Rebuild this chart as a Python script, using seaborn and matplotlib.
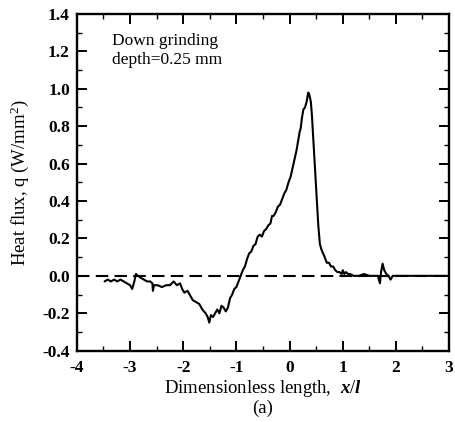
import matplotlib
matplotlib.use("Agg")
import matplotlib.pyplot as plt
import seaborn as sns
import pandas as pd
from matplotlib.ticker import MultipleLocator

# Measured heat flux along the contact zone (down grinding, depth 0.25 mm)
x_over_l = [-3.48, -3.42, -3.36, -3.30, -3.24, -3.18, -3.12, -3.06, -3.00, -2.96,
            -2.92, -2.89, -2.85, -2.80, -2.74, -2.68, -2.62, -2.58, -2.57, -2.55,
            -2.48, -2.40, -2.32, -2.25, -2.18, -2.12, -2.06, -2.02, -1.98, -1.92,
            -1.88, -1.82, -1.76, -1.70, -1.64, -1.58, -1.54, -1.51, -1.48, -1.44,
            -1.40, -1.36, -1.32, -1.28, -1.24, -1.20, -1.16, -1.12, -1.08, -1.04,
            -1.00, -0.96, -0.92, -0.88, -0.84, -0.80, -0.76, -0.72, -0.68, -0.64,
            -0.60, -0.56, -0.52, -0.48, -0.44, -0.40, -0.36, -0.33, -0.30, -0.26,
            -0.22, -0.18, -0.14, -0.10, -0.06, -0.02, 0.02, 0.06, 0.10, 0.13,
            0.16, 0.19, 0.21, 0.23, 0.26, 0.29, 0.32, 0.35, 0.37, 0.40,
            0.42, 0.45, 0.48, 0.51, 0.54, 0.57, 0.60, 0.63, 0.66, 0.70,
            0.74, 0.78, 0.82, 0.86, 0.90, 0.94, 0.98, 1.00, 1.03, 1.06,
            1.10, 1.14, 1.20, 1.30, 1.40, 1.50, 1.60, 1.66, 1.70, 1.72,
            1.75, 1.78, 1.82, 1.86, 1.90, 1.94, 2.00, 2.20, 2.50, 2.80, 3.00]
heat_flux = [-0.03, -0.02, -0.03, -0.02, -0.03, -0.02, -0.03, -0.04, -0.05, -0.07,
             -0.03, 0.01, 0.00, -0.01, -0.02, -0.03, -0.03, -0.04, -0.08, -0.05,
             -0.05, -0.06, -0.05, -0.05, -0.03, -0.05, -0.04, -0.07, -0.09, -0.08,
             -0.10, -0.13, -0.14, -0.15, -0.18, -0.20, -0.22, -0.25, -0.21, -0.22,
             -0.20, -0.18, -0.20, -0.16, -0.17, -0.19, -0.17, -0.12, -0.10, -0.07,
             -0.06, -0.03, 0.00, 0.03, 0.05, 0.09, 0.12, 0.13, 0.16, 0.17,
             0.21, 0.22, 0.21, 0.24, 0.25, 0.27, 0.28, 0.32, 0.32, 0.34,
             0.37, 0.38, 0.41, 0.44, 0.46, 0.50, 0.53, 0.58, 0.63, 0.67,
             0.72, 0.77, 0.79, 0.84, 0.89, 0.90, 0.93, 0.98, 0.97, 0.93,
             0.86, 0.71, 0.56, 0.40, 0.27, 0.17, 0.14, 0.12, 0.10, 0.07,
             0.07, 0.05, 0.05, 0.03, 0.02, 0.02, 0.01, 0.03, 0.01, 0.02,
             0.01, 0.01, 0.00, 0.00, 0.01, 0.00, 0.00, 0.00, -0.04, 0.02,
             0.065, 0.03, 0.01, 0.00, -0.02, 0.00, 0.00, 0.00, 0.00, 0.00, 0.00]

x_ticks = [-4, -3, -2, -1, 0, 1, 2, 3]
y_ticks = [-0.4, -0.2, 0.0, 0.2, 0.4, 0.6, 0.8, 1.0, 1.2, 1.4]

df = pd.DataFrame({"x": x_over_l, "q": heat_flux})

sns.set_theme(style="ticks")
plt.rcParams["font.family"] = ["Liberation Serif", "DejaVu Serif"]
plt.rcParams["mathtext.fontset"] = "custom"
plt.rcParams["mathtext.rm"] = "Liberation Serif"
plt.rcParams["mathtext.it"] = "Liberation Serif:italic:bold"

fig = plt.figure(figsize=(4.55, 4.22), dpi=100)
ax = fig.add_axes([0.169, 0.169, 0.818, 0.798])

ax.axhline(0, color="black", lw=1.5, ls=(0, (6, 3)), zorder=1)
sns.lineplot(data=df, x="x", y="q", ax=ax, color="black", lw=1.5,
             sort=False, estimator=None, zorder=2)

ax.set_xlim(-4, 3)
ax.set_ylim(-0.4, 1.4)
ax.set_xticks(x_ticks)
ax.set_xticklabels([f"{t:d}" for t in x_ticks])
ax.set_yticks(y_ticks)
ax.set_yticklabels([f"{t:.1f}" for t in y_ticks])
ax.xaxis.set_minor_locator(MultipleLocator(0.5))
ax.yaxis.set_minor_locator(MultipleLocator(0.1))
ax.tick_params(which="both", direction="in", top=True, right=True, color="black",
               labelsize=12.5, labelcolor="black")
ax.tick_params(which="major", length=7, width=1.4)
ax.tick_params(axis="x", which="major", pad=7)
ax.tick_params(axis="y", which="major", pad=5)
ax.tick_params(which="minor", length=3.5, width=1.0)
for lab in ax.get_xticklabels() + ax.get_yticklabels():
    lab.set_fontweight("bold")
for s in ax.spines.values():
    s.set_linewidth(1.7)
    s.set_color("black")

ax.set_xlabel("Dimensionless length,  $x/l$\n(a)", fontsize=13.5, color="black",
              labelpad=1, linespacing=1.05)
ax.set_ylabel("Heat flux, q (W/mm$^2$)", fontsize=13.5, color="black", labelpad=8)

ax.text(-3.34, 1.30, "Down grinding\ndepth=0.25 mm", fontsize=12.5, va="top",
        ha="left", color="black", linespacing=1.3)

fig.savefig("out.png", dpi=100, facecolor="white")
